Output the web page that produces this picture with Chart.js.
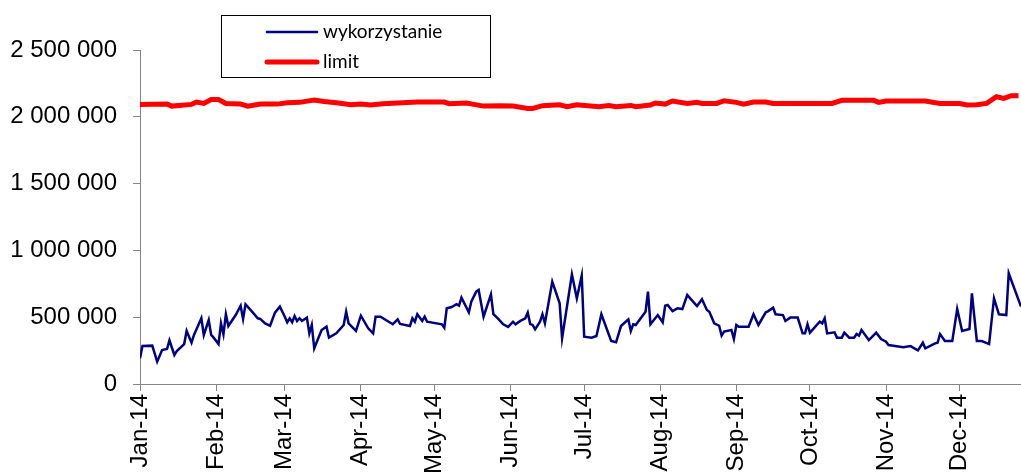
<!DOCTYPE html>
<html>
<head>
<meta charset="utf-8">
<script src="https://cdn.jsdelivr.net/npm/chart.js@4/dist/chart.umd.min.js"></script>
<style>
html,body{margin:0;padding:0;background:#fff;}
canvas{display:block;}
</style>
</head>
<body>
<canvas id="c" width="1021" height="476"></canvas>
<script>
// Day of year (0 = 1 Jan 2014) of each reading
const usageDays = [0,1,5,7,9,11,12,14,15,18,19,21,22,25,26,28,29,30,32,33,34,35,36,39,41,42,43,46,48,49,51,53,55,57,59,60,61,62,63,64,65,66,68,69,70,71,74,76,77,80,83,84,85,88,90,93,95,96,98,103,105,106,110,111,112,113,115,116,117,123,124,125,127,129,130,131,134,135,137,138,140,143,144,146,148,150,152,153,155,157,158,159,160,161,163,164,165,168,171,172,176,178,180,181,184,186,188,192,194,196,199,200,201,202,206,207,208,211,213,214,215,217,219,221,223,226,227,229,231,232,234,236,237,238,241,242,243,244,248,250,252,255,256,258,259,262,263,265,268,270,271,272,273,277,278,279,280,283,284,286,287,289,291,292,293,294,297,300,302,304,305,307,311,314,315,317,319,320,324,325,326,328,331,333,335,338,339,341,343,346,348,350,353,354,359];
const usageValues = [192000,284000,287000,167000,254000,262000,327000,217000,247000,299000,397000,309000,367000,492000,367000,479000,367000,347000,299000,454000,372000,522000,434000,516000,586000,487000,597000,534000,492000,487000,454000,436000,534000,579000,504000,462000,492000,462000,509000,472000,492000,472000,497000,379000,442000,267000,404000,429000,347000,379000,442000,541000,454000,397000,511000,417000,379000,504000,504000,447000,484000,449000,434000,492000,466000,522000,472000,504000,466000,447000,422000,567000,576000,597000,586000,646000,537000,616000,691000,704000,504000,671000,522000,487000,447000,427000,466000,447000,472000,492000,534000,449000,442000,409000,466000,522000,454000,766000,604000,342000,821000,641000,811000,354000,347000,359000,522000,322000,312000,434000,484000,397000,447000,442000,541000,691000,447000,516000,462000,586000,591000,546000,566000,561000,666000,604000,584000,634000,554000,541000,454000,436000,362000,392000,404000,337000,442000,429000,429000,522000,442000,537000,546000,571000,522000,516000,472000,497000,497000,379000,379000,447000,384000,466000,454000,492000,379000,387000,347000,347000,384000,347000,347000,374000,362000,404000,329000,384000,337000,317000,292000,287000,275000,284000,272000,252000,309000,267000,304000,309000,374000,322000,322000,561000,397000,412000,679000,322000,322000,299000,641000,522000,516000,829000,580000];

const limitDays = [0,11,13,21,23,26,29,32,35,41,44,49,56,60,65,71,75,80,86,90,94,99,113,124,126,133,140,147,152,158,160,164,171,174,178,187,191,194,200,202,208,210,214,217,223,227,229,235,238,243,246,250,255,258,282,286,299,301,304,320,326,334,337,341,345,349,352,355,358];
const limitValues = [2093000,2095000,2080000,2093000,2110000,2100000,2130000,2130000,2100000,2095000,2080000,2095000,2095000,2105000,2108000,2125000,2115000,2105000,2090000,2095000,2088000,2098000,2110000,2110000,2098000,2103000,2080000,2083000,2080000,2063000,2063000,2083000,2090000,2075000,2090000,2075000,2085000,2075000,2085000,2075000,2088000,2103000,2095000,2118000,2100000,2108000,2100000,2100000,2120000,2108000,2095000,2110000,2110000,2100000,2100000,2123000,2123000,2108000,2118000,2118000,2100000,2100000,2088000,2090000,2100000,2150000,2138000,2158000,2158000];

const monthTicks = [0,31,59,90,120,151,181,212,243,273,304,334];
const monthLabels = ['Jan-14','Feb-14','Mar-14','Apr-14','May-14','Jun-14','Jul-14','Aug-14','Sep-14','Oct-14','Nov-14','Dec-14'];
const seriesNames = ['wykorzystanie','limit'];

const toPoints = (xs, ys) => xs.map((x, i) => ({x: x, y: ys[i]}));
const fmt = v => String(v).replace(/\B(?=(\d{3})+(?!\d))/g, ' ');

const legendBox = {
  id: 'legendBox',
  afterDraw(chart) {
    const ctx = chart.ctx;
    ctx.save();
    ctx.strokeStyle = '#000';
    ctx.lineWidth = 1;
    ctx.strokeRect(221.5, 15.5, 269, 62);
    const rows = [32, 62];
    chart.data.datasets.forEach((ds, i) => {
      ctx.beginPath();
      ctx.strokeStyle = ds.borderColor;
      ctx.lineWidth = ds.borderWidth;
      ctx.lineCap = 'round';
      ctx.moveTo(267, rows[i]);
      ctx.lineTo(317, rows[i]);
      ctx.stroke();
      ctx.fillStyle = '#000';
      ctx.font = '19px Lato';
      ctx.textBaseline = 'middle';
      ctx.textAlign = 'left';
      ctx.fillText(ds.label, 323, rows[i]);
    });
    ctx.restore();
  }
};

new Chart(document.getElementById('c'), {
  type: 'line',
  data: {
    datasets: [
      {label: seriesNames[0], data: toPoints(usageDays, usageValues), borderColor: '#000080', borderWidth: 2.5, pointRadius: 0, tension: 0},
      {label: seriesNames[1], data: toPoints(limitDays, limitValues), borderColor: '#FF0000', borderWidth: 5, pointRadius: 0, tension: 0}
    ]
  },
  options: {
    responsive: false,
    animation: false,
    devicePixelRatio: 1,
    layout: {padding: {top: 50, right: 0, left: 0, bottom: 0}},
    plugins: {legend: {display: false}, tooltip: {enabled: false}},
    scales: {
      x: {
        type: 'linear',
        min: 0,
        max: 359,
        afterBuildTicks: s => { s.ticks = monthTicks.map(v => ({value: v})); },
        afterFit: s => { s.height = 92; },
        grid: {drawOnChartArea: false, drawTicks: true, tickLength: 7, color: '#868686'},
        border: {color: '#868686', width: 1},
        ticks: {
          autoSkip: false,
          minRotation: 90,
          maxRotation: 90,
          padding: 3,
          color: '#000',
          font: {family: 'Liberation Sans, Arial', size: 24},
          callback: (v) => monthLabels[monthTicks.indexOf(v)]
        }
      },
      y: {
        min: 0,
        max: 2500000,
        afterFit: s => { s.width = 140; },
        grid: {drawOnChartArea: false, drawTicks: true, tickLength: 7, color: '#868686'},
        border: {color: '#868686', width: 1},
        ticks: {
          stepSize: 500000,
          padding: 16,
          color: '#000',
          font: {family: 'Liberation Sans, Arial', size: 24},
          callback: v => fmt(v)
        }
      }
    }
  },
  plugins: [legendBox]
});
</script>
</body>
</html>
